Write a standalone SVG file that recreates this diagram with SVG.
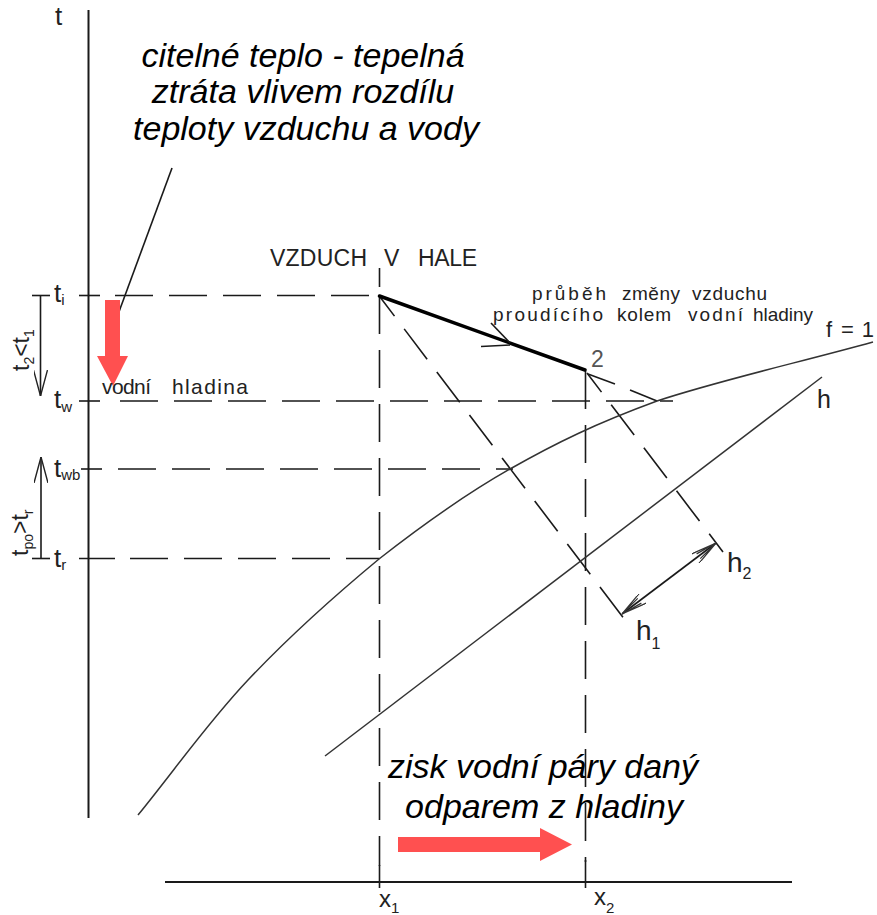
<svg xmlns="http://www.w3.org/2000/svg" width="877" height="915" viewBox="0 0 877 915">
<defs>
<style>
.ax{stroke:#1a1a1a;stroke-width:2;fill:none}
.tk{stroke:#1a1a1a;stroke-width:1.6;fill:none}
.da{stroke:#1a1a1a;stroke-width:1.6;fill:none;stroke-dasharray:38 16}
.cv{stroke:#333;stroke-width:1.5;fill:none}
.th{stroke:#000;stroke-width:3.5;fill:none;stroke-linecap:round}
.cad{font-family:"Liberation Sans",Arial,sans-serif;fill:#222}
.big{font-family:"Liberation Sans",Arial,sans-serif;font-style:italic;font-size:34px;fill:#000;text-anchor:middle}
.red{fill:#ff5050}
</style>
<marker id="ah" viewBox="0 0 26 14" refX="26" refY="7" markerWidth="26" markerHeight="14" markerUnits="userSpaceOnUse" orient="auto-start-reverse">
<path d="M0,0 L26,7 L0,14" fill="none" stroke="#222" stroke-width="1.4"/>
</marker>
<marker id="ah2" viewBox="0 0 26 12" refX="26" refY="6" markerWidth="26" markerHeight="12" markerUnits="userSpaceOnUse" orient="auto-start-reverse">
<path d="M0,0 L26,6 L0,12 M4,3 L26,6 L4,9" fill="none" stroke="#333" stroke-width="1.2"/>
</marker>
</defs>
<rect width="877" height="915" fill="#fff"/>

<g id="axes">
<line class="ax" x1="88.5" y1="10" x2="88.5" y2="818"/>
<line class="ax" x1="165" y1="882" x2="792" y2="882"/>
<line class="tk" x1="379.5" y1="865" x2="379.5" y2="888"/>
<line class="tk" x1="585.5" y1="860" x2="585.5" y2="888"/>
</g>

<g id="connectors">
<line class="tk" x1="79" y1="295.5" x2="100" y2="295.5"/>
<line class="da" x1="115" y1="295.5" x2="379.5" y2="295.5"/>
<line class="tk" x1="79" y1="401" x2="100" y2="401"/>
<line class="da" x1="120" y1="401" x2="673" y2="401"/>
<line class="tk" x1="81" y1="469" x2="102" y2="469"/>
<line class="da" x1="118" y1="469" x2="513" y2="469"/>
<line class="tk" x1="79" y1="558.5" x2="115" y2="558.5"/>
<line class="da" x1="130" y1="558.5" x2="379.5" y2="558.5"/>
<line class="tk" x1="379.5" y1="268" x2="379.5" y2="287"/>
<line class="da" x1="379.5" y1="296" x2="379.5" y2="866"/>
<line class="da" x1="585.5" y1="371" x2="585.5" y2="862"/>
<line class="da" x1="380" y1="297" x2="628" y2="624" stroke-dashoffset="14"/>
<line class="da" x1="587" y1="373" x2="723" y2="552" stroke-dashoffset="14"/>
<line class="tk" x1="588" y1="374" x2="615" y2="384"/>
<line class="tk" x1="630" y1="390" x2="657" y2="401"/>
<line class="tk" x1="622" y1="614" x2="716" y2="543" marker-start="url(#ah2)" marker-end="url(#ah2)" stroke-width="1.3"/>
<line class="tk" x1="32" y1="295.5" x2="50" y2="295.5"/>
<line class="tk" x1="40.5" y1="295.5" x2="40.5" y2="396" marker-end="url(#ah)"/>
<line class="tk" x1="32" y1="558.5" x2="50" y2="558.5"/>
<line class="tk" x1="41" y1="558.5" x2="41" y2="457" marker-end="url(#ah)"/>
<line class="tk" x1="172" y1="168" x2="113" y2="328" stroke-width="1.8"/>
</g>

<g id="curves">
<path id="f1" class="cv" d="M138,815 C174.7,770 207.8,722.5 248,680 C288.2,637.5 335.3,595.2 379,559 C422.7,524.8 463.7,495.3 510,469 C556.3,442.7 596.5,423.2 657,401 C717.5,380.8 801,362 873,342"/>
<path id="h" class="cv" d="M325,756 Q570,570 822,377"/>
</g>

<g id="process">
<line class="th" x1="379.5" y1="296" x2="585" y2="370"/>
<line class="tk" x1="491" y1="323" x2="510" y2="343" stroke-width="1.3"/>
<line class="tk" x1="481" y1="346.5" x2="510" y2="345" stroke-width="1.3"/>
</g>

<g id="red-arrows">
<polygon class="red" points="105,300 120,300 120,356 128,356 113,386 97,356 105,356"/>
<polygon class="red" points="398,837 540,837 540,828 572,844.5 540,861 540,852 398,852"/>
</g>

<g id="labels">
<text class="cad" x="55" y="25" font-size="26">t</text>
<text class="cad" x="54" y="302" font-size="26">t<tspan font-size="15" dy="3">i</tspan></text>
<text class="cad" x="54" y="408" font-size="26">t<tspan font-size="15" dy="4">w</tspan></text>
<text class="cad" x="54" y="477" font-size="26">t<tspan font-size="15" dy="3">wb</tspan></text>
<text class="cad" x="54" y="567" font-size="26">t<tspan font-size="15" dy="3">r</tspan></text>
<text class="cad" font-size="23" transform="translate(29,371) rotate(-90)">t<tspan font-size="14" dy="5">2</tspan><tspan dy="-5">&lt;t</tspan><tspan font-size="14" dy="5">1</tspan></text>
<text class="cad" font-size="23" transform="translate(28,556) rotate(-90)">t<tspan font-size="14" dy="5">po</tspan><tspan dy="-5">&gt;t</tspan><tspan font-size="14" dy="5">r</tspan></text>

<text class="cad" x="270" y="266" font-size="23" textLength="97">VZDUCH</text>
<text class="cad" x="384" y="266" font-size="23">V</text>
<text class="cad" x="418" y="266" font-size="23" textLength="59">HALE</text>

<text class="cad" x="532" y="300" font-size="19" textLength="74">průběh</text>
<text class="cad" x="622" y="300" font-size="19" textLength="58">změny</text>
<text class="cad" x="692" y="300" font-size="19" textLength="75">vzduchu</text>
<text class="cad" x="493" y="321" font-size="19" textLength="110">proudícího</text>
<text class="cad" x="617" y="321" font-size="19" textLength="54">kolem</text>
<text class="cad" x="688" y="321" font-size="19" textLength="55">vodní</text>
<text class="cad" x="753" y="321" font-size="19" textLength="60">hladiny</text>

<text class="cad" x="826" y="337" font-size="22">f</text>
<text class="cad" x="841" y="337" font-size="22" textLength="33">=1</text>
<text class="cad" x="591" y="367" font-size="23" style="fill:#555">2</text>
<text class="cad" x="102" y="394" font-size="21" textLength="49">vodní</text>
<text class="cad" x="172" y="394" font-size="21" textLength="76">hladina</text>

<text class="cad" x="817" y="408" font-size="25">h</text>
<text class="cad" x="727" y="572" font-size="28">h<tspan font-size="16" dy="7">2</tspan></text>
<text class="cad" x="636" y="640" font-size="28">h<tspan font-size="16" dy="9">1</tspan></text>
<text class="cad" x="379" y="907" font-size="24">x<tspan font-size="15" dy="6">1</tspan></text>
<text class="cad" x="594" y="905" font-size="24">x<tspan font-size="15" dy="8">2</tspan></text>

<text class="big" x="303" y="67">citelné teplo - tepelná</text>
<text class="big" x="303" y="103">ztráta vlivem rozdílu</text>
<text class="big" x="306" y="140">teploty vzduchu a vody</text>
<text class="big" x="543" y="778">zisk vodní páry daný</text>
<text class="big" x="544" y="818">odparem z hladiny</text>
</g>
</svg>
